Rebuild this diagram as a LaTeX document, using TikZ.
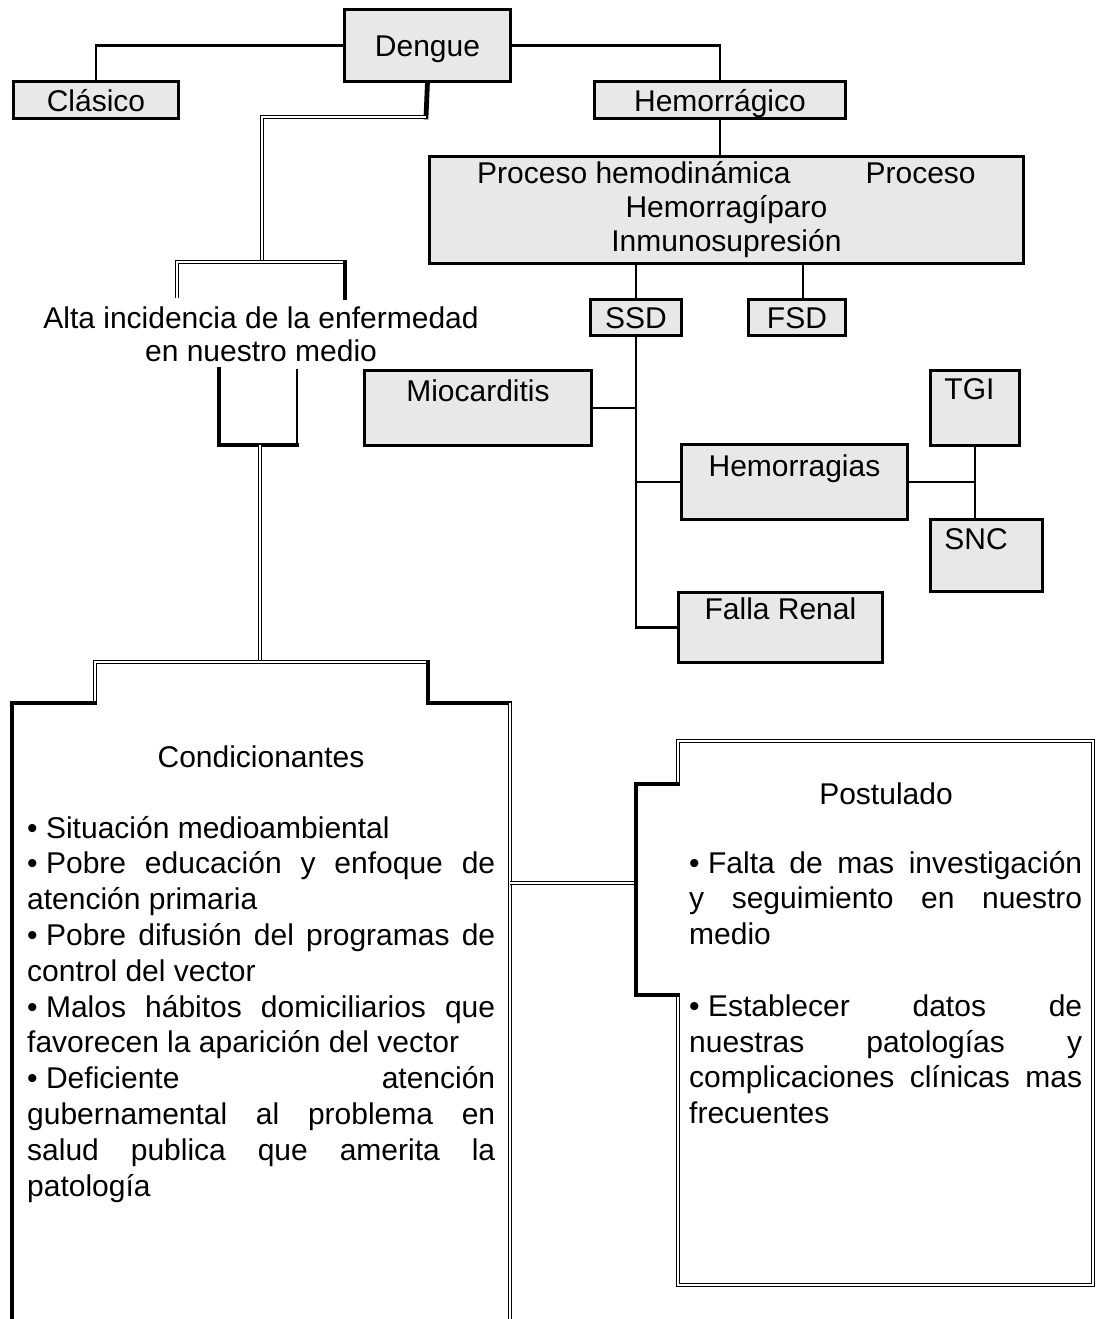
\documentclass[tikz,border=0pt]{standalone}
\usepackage{fontspec}
\setmainfont{Liberation Sans}
\definecolor{boxgray}{RGB}{232,232,232}
\tolerance=10000
\hyphenpenalty=10000
\newcommand{\bul}{\textbullet\hspace{0.28em}}
\tikzset{
	block/.style={
		rectangle,
		draw,
		line width=2.9pt,
		fill=boxgray,
		inner sep=0pt,
		anchor=north west,
	},
	link/.style={
		line width=2.9pt,
	},
	thicklink/.style={
		line width=4.8pt,
		line cap=rect,
	},
	doublelink/.style={
		double,
		double distance=1.7pt,
		line width=1.4pt,
	},
}

\begin{document}
\begin{tikzpicture}[x=1pt,y=-1pt,font=\fontsize{30pt}{35.8pt}\selectfont]
	\useasboundingbox (0,0) rectangle (1102,1319);

	\node[block,minimum width=166pt,text height=47pt,text depth=25pt] (dengue) at (343,8) {Dengue};
	\node[block,minimum width=165pt,text height=30pt,text depth=7pt] (clasico) at (12,80) {Clásico};
	\node[block,minimum width=251pt,text height=30pt,text depth=7pt] (hemorragico) at (593,80) {Hemorrágico};
	\node[block,minimum width=594pt,minimum height=107pt,align=center,font=\fontsize{30pt}{34pt}\selectfont] (proceso) at (428,155)
		{Proceso hemodinámica\hspace{2.5em}Proceso\\Hemorragíparo\\Inmunosupresión};
	\node[block,minimum width=91pt,text height=29pt,text depth=7pt] (ssd) at (589,298) {SSD};
	\node[block,minimum width=97pt,text height=29pt,text depth=7pt] (fsd) at (747,298) {FSD};
	\node[block,minimum width=227pt,text height=31pt,text depth=44pt] (miocarditis) at (363,369) {Miocarditis};
	\node[block,minimum width=226pt,text height=32pt,text depth=43pt] (hemorragias) at (680,443) {Hemorragias};
	\node[block,text width=61pt,inner xsep=14pt,text height=29pt,text depth=46pt] (tgi) at (929,369) {TGI};
	\node[block,text width=84pt,inner xsep=14pt,text height=30pt,text depth=42pt] (snc) at (929,518) {SNC};
	\node[block,minimum width=204pt,text height=27pt,text depth=43pt] (fallarenal) at (677,591) {Falla Renal};

	\draw[link] (dengue.west) -| (clasico.north);
	\draw[link] (dengue.east) -| (hemorragico.north);
	\draw[link] (hemorragico.south) -- (hemorragico.south |- proceso.north);
	\draw[link] (proceso.south -| ssd.north) -- (ssd.north);
	\draw[link] ([xshift=6pt]fsd.north) -- ([xshift=6pt]fsd.north |- proceso.south);
	\draw[link] (ssd.south) |- (fallarenal.west);
	\draw[link] (miocarditis.east) -- (miocarditis.east -| ssd.south);
	\draw[link] (hemorragias.west) -- (hemorragias.west -| ssd.south);
	\draw[link] (hemorragias.east) -- (hemorragias.east -| tgi.south);
	\draw[link] (tgi.south) -- (tgi.south |- snc.north);

	\node[align=center,font=\fontsize{30pt}{33pt}\selectfont] (alta) at (261,334) {Alta incidencia de la enfermedad\\en nuestro medio};

	\coordinate (bend1) at (426,117);
	\coordinate (uptop) at (262,262);
	\coordinate (upL) at (177,298);
	\coordinate (upR) at (345,298);
	\coordinate (lowL) at (219,369);
	\coordinate (lowR) at (297,369);
	\coordinate (lowC) at (260,445);
	\coordinate (condtop) at (260,662);

	\draw[thicklink] (dengue.south) -- (bend1);
	\draw[doublelink] (bend1) -| (uptop);
	\draw[doublelink] (upL) |- (uptop) -- (upR |- uptop);
	\draw[thicklink] (upR |- uptop) -- (upR);
	\draw[thicklink] (lowL) |- (lowR |- lowC);
	\draw[link] (lowR |- lowC) -- (lowR);
	\draw[doublelink] (lowC) -- (condtop);

	\draw[doublelink] (95,703) -- (95,662) -- (428,662);
	\draw[thicklink] (428,662) -- (428,703) -- (510,703);
	\draw[doublelink] (510,703) -- (510,1325);
	\draw[thicklink] (95,703) -- (12,703) -- (12,1325);

	\draw[doublelink] (510,883) -- (636,883);

	\draw[doublelink] (678,784) -- (678,741) -- (1093,741) -- (1093,1285) -- (678,1285) -- (678,995);
	\draw[thicklink] (678,995) -- (636,995) -- (636,784) -- (678,784);

	\node[anchor=base] (condicionantes) at (261,767) {Condicionantes};
	\node[anchor=base west,text width=468pt,align=justify,inner sep=0pt] (condlista) at (27,838) {%
		\bul Situación medioambiental\par
		\bul Pobre educación y enfoque de\linebreak atención primaria\par
		\bul Pobre difusión del programas de\linebreak control del vector\par
		\bul Malos hábitos domiciliarios que\linebreak favorecen la aparición del vector\par
		\bul Deficiente atención\linebreak gubernamental al problema en\linebreak salud publica que amerita la\linebreak patología};

	\node[anchor=base] (postulado) at (886,804) {Postulado};
	\node[anchor=base west,text width=393pt,align=justify,inner sep=0pt] (postlista) at (689,873) {%
		\bul Falta de mas investigación\linebreak y seguimiento en nuestro\linebreak medio\par
		\vspace{35.8pt}
		\bul Establecer datos de\linebreak nuestras patologías y\linebreak complicaciones clínicas mas\linebreak frecuentes};
\end{tikzpicture}
\end{document}
